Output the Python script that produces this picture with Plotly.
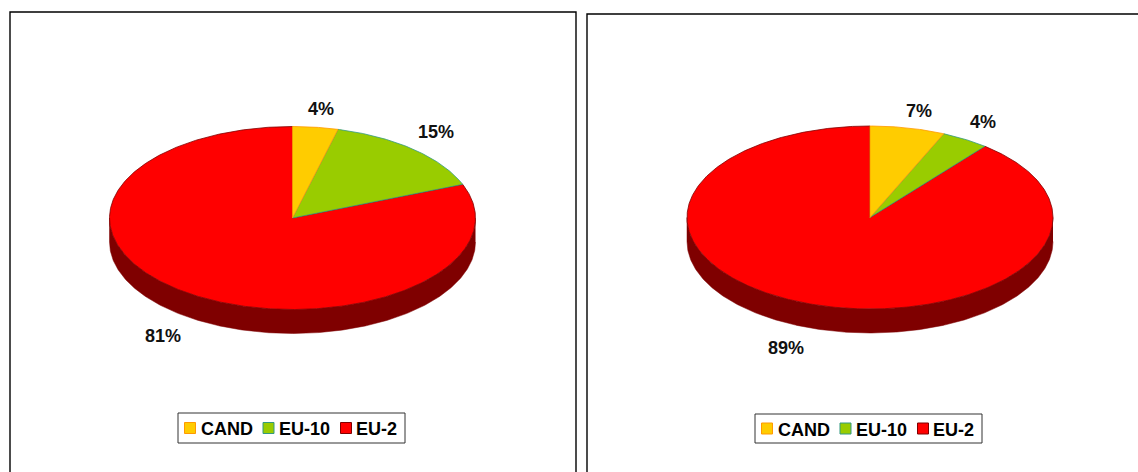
import numpy as np
import plotly.graph_objects as go

W, H = 1138, 472
categories = ["CAND", "EU-10", "EU-2"]
values_left = [4, 15, 81]
values_right = [6.6, 4.2, 89.2]
fill_colors = ["#FFCC00", "#99CC00", "#FF0000"]
edge_colors = ["#FF9900", "#339980", "#800000"]
wall_color = "#7F0000"

# layout, in page pixels
panels = [
    dict(values=values_left, frame=(10, 576, 12), cx=292.5, cy=218,
         labels=[(321, 109), (436, 132), (163, 336)], legend=(178, 413, 405, 443)),
    dict(values=values_right, frame=(587, 1150, 14), cx=870, cy=217.5,
         labels=[(919, 111), (983, 122), (786, 348)], legend=(755, 414, 982, 443)),
]
RX, RY, DEPTH = 183.0, 91.5, 24.0
SWATCH_OFFSETS = [12, 90.5, 168]   # swatch centre from the left of the legend box
TEXT_OFFSETS = [23, 101, 178]      # text start from the left of the legend box

fig = go.Figure()
layout = {}
shapes = []
annotations = []


def arc(a0, a1, dy=0.0):
    t = np.radians(np.linspace(a0, a1, max(int(abs(a1 - a0) * 2), 2) + 1))
    return np.sin(t), np.cos(t) * RY / RX - dy


for i, p in enumerate(panels):
    sfx = "" if i == 0 else "2"
    xa, ya = "x" + sfx, "y" + sfx
    x0, x1, top = p["frame"]
    right = min(x1, W)
    layout["xaxis" + sfx] = dict(domain=[x0 / W, right / W], range=[(x0 - p["cx"]) / RX, (right - p["cx"]) / RX],
                                 visible=False, fixedrange=True)
    layout["yaxis" + sfx] = dict(domain=[0, 1 - top / H], range=[(p["cy"] - H) / RX, (p["cy"] - top) / RX],
                                 visible=False, fixedrange=True)
    shapes.append(dict(type="rect", xref="paper", yref="paper", x0=x0 / W, x1=x1 / W,
                       y0=-0.1, y1=1 - top / H, line=dict(color="#000000", width=1.4), layer="above"))

    cum = np.cumsum([0] + p["values"]) / sum(p["values"]) * 360
    # side wall of the front half
    for j in range(3):
        a0, a1 = max(cum[j], 90), min(cum[j + 1], 270)
        if a1 > a0:
            xt, yt = arc(a0, a1)
            xb, yb = arc(a1, a0, DEPTH / RX)
            fig.add_trace(go.Scatter(x=np.r_[xt, xb], y=np.r_[yt, yb], xaxis=xa, yaxis=ya, mode="lines",
                                     fill="toself", fillcolor=wall_color, line=dict(color=wall_color, width=0.5),
                                     showlegend=False, hoverinfo="skip"))
    # top slices, last first
    for j in (2, 1, 0):
        xt, yt = arc(cum[j], cum[j + 1])
        fig.add_trace(go.Scatter(x=np.r_[0, xt, 0], y=np.r_[0, yt, 0], xaxis=xa, yaxis=ya, mode="lines",
                                 fill="toself", fillcolor=fill_colors[j], line=dict(color=edge_colors[j], width=0.8),
                                 name=categories[j], showlegend=False, hoverinfo="name"))
    # legend box, swatches and names
    lx0, ly0, lx1, ly1 = p["legend"]
    ly = (ly0 + ly1) / 2
    shapes.append(dict(type="rect", xref="paper", yref="paper", x0=lx0 / W, x1=lx1 / W, y0=1 - ly0 / H, y1=1 - ly1 / H,
                       line=dict(color="#333333", width=1), fillcolor="#FFFFFF", layer="below"))
    fig.add_trace(go.Scatter(x=[(lx0 + o - p["cx"]) / RX for o in SWATCH_OFFSETS],
                             y=[(p["cy"] - ly) / RX] * 3, xaxis=xa, yaxis=ya, mode="markers",
                             marker=dict(symbol="square", size=11, color=fill_colors,
                                         line=dict(color=edge_colors, width=1)),
                             showlegend=False, hoverinfo="skip"))
    for name, o in zip(categories, TEXT_OFFSETS):
        annotations.append(dict(text=f"<b>{name}</b>", xref="paper", yref="paper", x=(lx0 + o) / W, y=1 - ly / H,
                                showarrow=False, xanchor="left", yanchor="middle", xshift=-2, yshift=-1,
                                font=dict(family="Liberation Sans", size=18, color="#000000")))
    for v, (tx, ty) in zip(p["values"], p["labels"]):
        annotations.append(dict(text=f"<b>{round(v)}%</b>", xref="paper", yref="paper", x=tx / W, y=1 - ty / H,
                                showarrow=False, xanchor="center", yanchor="middle",
                                font=dict(family="Liberation Sans", size=18, color="#111111")))

fig.update_layout(width=W, height=H, margin=dict(l=0, r=0, t=0, b=0), paper_bgcolor="#FFFFFF",
                  plot_bgcolor="#FFFFFF", shapes=shapes, annotations=annotations, hovermode="closest",
                  showlegend=False, **layout)
fig.write_html("out.html", config={"displayModeBar": False},
               post_script="document.body.style.margin='0';document.body.style.overflow='hidden';")
